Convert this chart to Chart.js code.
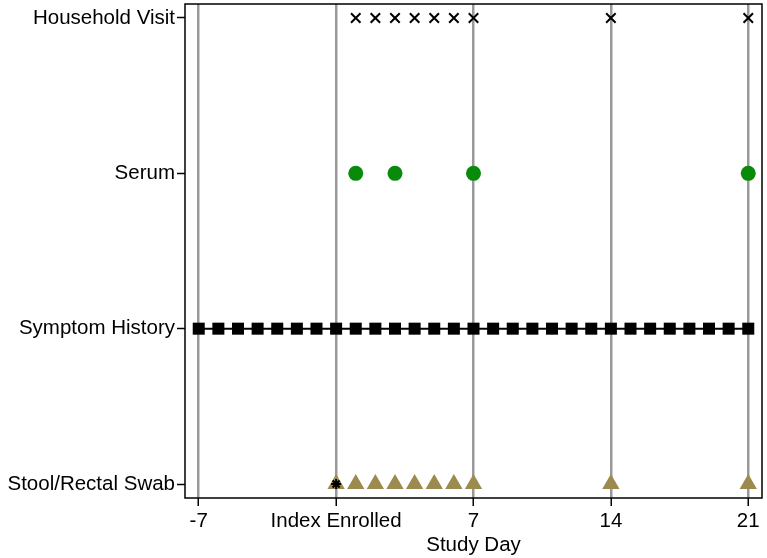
<!DOCTYPE html>
<html>
<head>
<meta charset="utf-8">
<script src="https://cdn.jsdelivr.net/npm/chart.js@4"></script>
<style>
  html, body { margin: 0; padding: 0; background: #fff; }
  #wrap { width: 767px; height: 558px; }
</style>
</head>
<body>
<div id="wrap"><canvas id="c"></canvas></div>
<script>
// Categories (bottom to top)
const categories = ["Stool/Rectal Swab", "Symptom History", "Serum", "Household Visit"];
// Study days per collection type
const householdDays = [1, 2, 3, 4, 5, 6, 7, 14, 21];
const serumDays = [1, 3, 7, 21];
const symptomDays = [-7, -6, -5, -4, -3, -2, -1, 0, 1, 2, 3, 4, 5, 6, 7, 8, 9, 10, 11, 12, 13, 14, 15, 16, 17, 18, 19, 20, 21];
const stoolDays = [0, 1, 2, 3, 4, 5, 6, 7, 14, 21];
const indexDays = [0];
const xTicks = [-7, 0, 7, 14, 21];

function pts(days, cat) {
    const y = categories.indexOf(cat);
    return days.map(d => ({ x: d, y: y }));
}

// cadre noir autour de la zone du graphique
const frame = {
    id: "frame",
    beforeDatasetsDraw(chart) {
        const a = chart.chartArea, ctx = chart.ctx;
        ctx.save();
        ctx.strokeStyle = "#000";
        ctx.lineWidth = 1.5;
        ctx.strokeRect(a.left, a.top, a.right - a.left, a.bottom - a.top);
        ctx.restore();
    }
};

const font = { family: "'Liberation Sans', Arial, sans-serif", size: 20.5 };

new Chart(document.getElementById("c"), {
    type: "scatter",
    data: {
        datasets: [
            {
                label: "Index",
                data: pts(indexDays, "Stool/Rectal Swab"),
                order: 0,
                pointStyle: "star",
                pointRadius: 5,
                pointBorderColor: "#000",
                pointBorderWidth: 2,
                clip: false
            },
            {
                label: "Symptom History",
                data: pts(symptomDays, "Symptom History"),
                order: 1,
                showLine: true,
                borderColor: "#000",
                borderWidth: 2,
                pointStyle: "rect",
                pointRadius: 8.5,
                pointBackgroundColor: "#000",
                pointBorderColor: "#000",
                pointBorderWidth: 0,
                clip: false
            },
            {
                label: "Stool/Rectal Swab",
                data: pts(stoolDays, "Stool/Rectal Swab"),
                order: 1,
                pointStyle: "triangle",
                pointRadius: 10,
                pointBackgroundColor: "#9c8a4e",
                pointBorderColor: "#9c8a4e",
                pointBorderWidth: 0,
                clip: false
            },
            {
                label: "Serum",
                data: pts(serumDays, "Serum"),
                order: 1,
                pointStyle: "circle",
                pointRadius: 7.5,
                pointBackgroundColor: "#0a8a0a",
                pointBorderColor: "#0a8a0a",
                pointBorderWidth: 0,
                clip: false
            },
            {
                label: "Household Visit",
                data: pts(householdDays, "Household Visit"),
                order: 1,
                pointStyle: "crossRot",
                pointRadius: 6.7,
                pointBorderColor: "#000",
                pointBorderWidth: 2,
                clip: false
            }
        ]
    },
    options: {
        responsive: true,
        maintainAspectRatio: false,
        animation: false,
        layout: { autoPadding: false, padding: { top: 4, right: 5, left: 0, bottom: 0 } },
        plugins: { legend: { display: false }, tooltip: { enabled: false } },
        scales: {
            x: {
                type: "linear",
                min: -7.7,
                max: 21.7,
                afterBuildTicks: s => { s.ticks = xTicks.map(v => ({ value: v })); },
                afterFit: s => { s.height = 60; s.paddingLeft = 0; s.paddingRight = 0; },
                border: { display: false },
                grid: {
                    color: "#999",
                    lineWidth: 2.5,
                    tickColor: "#000",
                    tickLength: 8,
                    tickWidth: 1.5
                },
                ticks: {
                    color: "#000",
                    font: font,
                    padding: 3,
                    maxRotation: 0,
                    autoSkip: false,
                    callback: v => v === 0 ? "Index Enrolled" : v
                },
                title: {
                    display: true,
                    text: "Study Day",
                    color: "#000",
                    font: font,
                    padding: { top: 0, bottom: 0 }
                }
            },
            y: {
                type: "linear",
                min: -0.09,
                max: 3.09,
                afterBuildTicks: s => { s.ticks = categories.map((c, i) => ({ value: i })); },
                afterFit: s => { s.width = 185; s.paddingTop = 0; s.paddingBottom = 0; },
                border: { display: false },
                grid: {
                    drawOnChartArea: false,
                    tickColor: "#000",
                    tickLength: 8,
                    tickWidth: 1.5
                },
                ticks: {
                    color: "#000",
                    font: font,
                    padding: 2,
                    autoSkip: false,
                    callback: v => categories[v]
                }
            }
        }
    },
    plugins: [frame]
});
</script>
</body>
</html>
